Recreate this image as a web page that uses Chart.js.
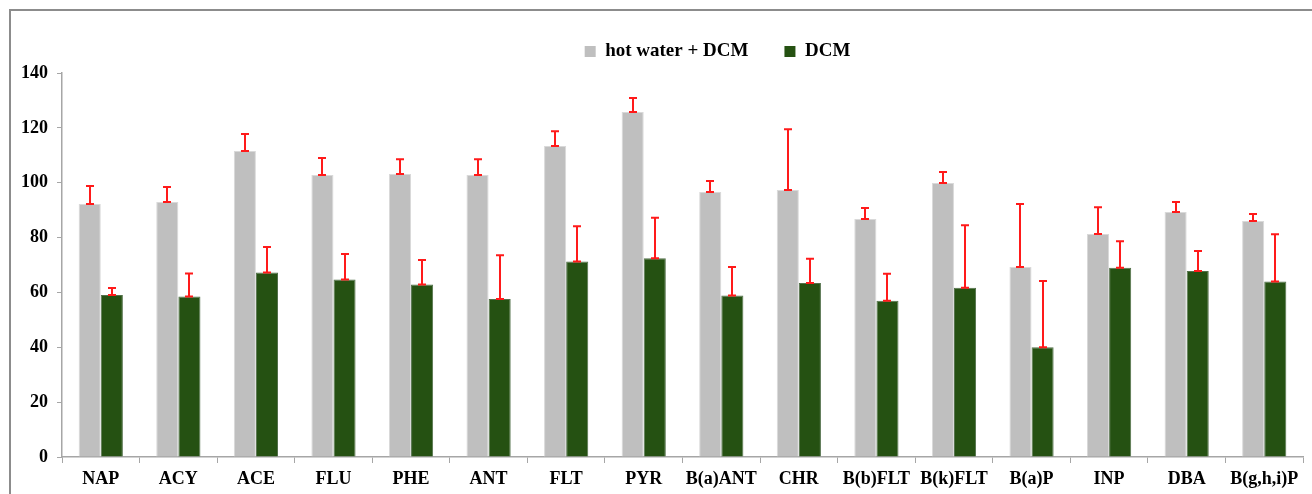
<!DOCTYPE html>
<html>
<head>
<meta charset="utf-8">
<script src="https://cdn.jsdelivr.net/npm/chart.js@4/dist/chart.umd.min.js"></script>
<style>
  html, body { margin: 0; padding: 0; background: #fff; overflow: hidden; }
  #wrap { position: relative; width: 1312px; height: 494px; }
  #frame { position: absolute; left: 9px; top: 9px; width: 1320px; height: 500px;
           border: 2px solid #8c8c8c; box-sizing: border-box; pointer-events: none; }
  canvas { position: absolute; left: 0; top: 0; }
</style>
</head>
<body>
<div id="wrap">
  <canvas id="c" width="1312" height="494"></canvas>
  <div id="frame"></div>
</div>
<script>
// PAH compounds on the category axis
const categories = ['NAP', 'ACY', 'ACE', 'FLU', 'PHE', 'ANT', 'FLT', 'PYR', 'B(a)ANT',
                    'CHR', 'B(b)FLT', 'B(k)FLT', 'B(a)P', 'INP', 'DBA', 'B(g,h,i)P'];

// Recovery values per extraction method
const hotWaterDCM = [92.2, 93.0, 111.6, 102.8, 103.2, 102.8, 113.4, 125.8, 96.6,
                     97.3, 86.8, 99.9, 69.3, 81.3, 89.3, 86.0];
const dcmOnly     = [59.1, 58.5, 67.3, 64.7, 62.9, 57.6, 71.3, 72.5, 58.9,
                     63.4, 57.0, 61.7, 40.0, 69.0, 67.8, 64.0];

// Standard deviations (drawn as upward error bars)
const hotWaterDCMErr = [6.6, 5.4, 6.2, 6.2, 5.4, 5.8, 5.4, 5.1, 4.0,
                        22.2, 4.0, 4.0, 22.9, 9.8, 3.7, 2.6];
const dcmOnlyErr     = [2.5, 8.4, 9.3, 9.3, 8.9, 16.0, 12.8, 14.7, 10.4,
                        8.9, 9.8, 22.8, 24.2, 9.7, 7.3, 17.2];

// Y axis ticks
const yTicks = [0, 20, 40, 60, 80, 100, 120, 140];

const serif = "'Liberation Serif', 'Times New Roman', serif";

// Draws "I"-shaped error bars above each bar
const errorBars = {
  id: 'errorBars',
  afterDatasetsDraw(chart) {
    const ctx = chart.ctx;
    const yScale = chart.scales.y;
    ctx.save();
    ctx.strokeStyle = '#ff1a1a';
    ctx.lineWidth = 2;
    chart.data.datasets.forEach((ds, di) => {
      const meta = chart.getDatasetMeta(di);
      meta.data.forEach((bar, i) => {
        const v = ds.data[i];
        const e = ds.errors[i];
        const x = Math.round(bar.x);
        const yBase = yScale.getPixelForValue(v);
        const yTop = yScale.getPixelForValue(v + e);
        const cap = 4;
        ctx.beginPath();
        ctx.moveTo(x, yBase);
        ctx.lineTo(x, yTop);
        ctx.moveTo(x - cap, yTop);
        ctx.lineTo(x + cap, yTop);
        ctx.moveTo(x - cap, yBase);
        ctx.lineTo(x + cap, yBase);
        ctx.stroke();
      });
    });
    ctx.restore();
  }
};

// Fixes the legend block height and sets the legend a little right of centre
const legendLayout = {
  id: 'legendLayout',
  beforeInit(chart) {
    const legend = chart.legend;
    const fit = legend.fit;
    legend.fit = function () {
      fit.call(this);
      this.height = 67;
    };
    const draw = legend.draw;
    legend.draw = function () {
      const ctx = this.ctx;
      ctx.save();
      ctx.translate(66, 0);
      draw.call(this);
      ctx.restore();
    };
  }
};

new Chart(document.getElementById('c'), {
  type: 'bar',
  data: {
    labels: categories,
    datasets: [
      {
        label: 'hot water + DCM',
        data: hotWaterDCM,
        errors: hotWaterDCMErr,
        backgroundColor: '#bfbfbf',
        borderColor: '#d9d9d9',
        borderWidth: 1,
        barPercentage: 1.0,
        categoryPercentage: 0.57
      },
      {
        label: 'DCM',
        data: dcmOnly,
        errors: dcmOnlyErr,
        backgroundColor: '#255112',
        borderColor: '#52704a',
        borderWidth: 1,
        barPercentage: 1.0,
        categoryPercentage: 0.57
      }
    ]
  },
  options: {
    responsive: false,
    animation: false,
    layout: { padding: { left: 0, right: 9, top: 6, bottom: 0 } },
    plugins: {
      legend: {
        display: true,
        position: 'top',
        align: 'center',
        labels: {
          boxWidth: 11,
          boxHeight: 11,
          padding: 36,
          color: '#000',
          font: { family: serif, size: 19, weight: 'bold' },
          generateLabels(chart) {
            return chart.data.datasets.map((ds, i) => ({
              text: ds.label,
              fillStyle: ds.backgroundColor,
              strokeStyle: ds.backgroundColor,
              lineWidth: 0,
              datasetIndex: i,
              fontColor: '#000'
            }));
          }
        }
      },
      tooltip: { enabled: false }
    },
    scales: {
      x: {
        grid: {
          display: true,
          drawOnChartArea: false,
          drawTicks: true,
          tickLength: 6,
          color: '#a6a6a6',
          offset: true
        },
        border: { display: true, color: '#a6a6a6', width: 1.5 },
        ticks: {
          color: '#000',
          padding: 6,
          maxRotation: 0,
          autoSkip: false,
          font: { family: serif, size: 18, weight: 'bold' }
        },
        afterFit(scale) { scale.height = 37; }
      },
      y: {
        min: 0,
        max: 140,
        afterBuildTicks(scale) { scale.ticks = yTicks.map(v => ({ value: v })); },
        grid: {
          display: true,
          drawOnChartArea: false,
          drawTicks: true,
          tickLength: 5,
          color: '#a6a6a6'
        },
        border: { display: true, color: '#a6a6a6', width: 1.5 },
        ticks: {
          color: '#000',
          padding: 9,
          font: { family: serif, size: 18, weight: 'bold' }
        },
        afterFit(scale) { scale.width = 62; }
      }
    }
  },
  plugins: [legendLayout, errorBars]
});
</script>
</body>
</html>
